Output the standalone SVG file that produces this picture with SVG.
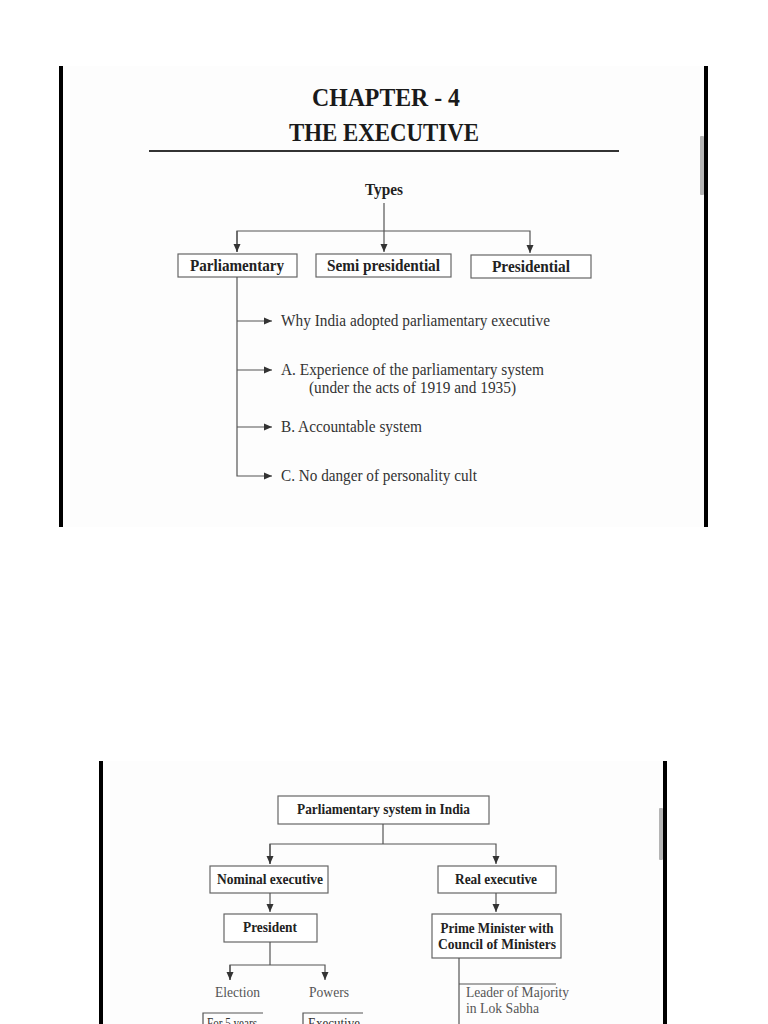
<svg xmlns="http://www.w3.org/2000/svg" width="768" height="1024" viewBox="0 0 768 1024">
<defs>
<marker id="ah" markerWidth="9" markerHeight="9" refX="8" refY="4.5" orient="auto" markerUnits="userSpaceOnUse">
<path d="M0,1 L8,4.5 L0,8 Z" fill="#333"/>
</marker>
<style>
.bar{fill:#000}
.thumb{fill:#b5b5b5}
.ln{stroke:#555;stroke-width:1.2;fill:none}
.box{fill:#fff;stroke:#666;stroke-width:1.2}
.title{font-family:"Liberation Serif",serif;font-weight:bold;fill:#1a1a1a;text-anchor:middle}
.b{font-family:"Liberation Serif",serif;font-weight:bold;fill:#222;text-anchor:middle}
.r{font-family:"Liberation Serif",serif;fill:#333}
.g{font-family:"Liberation Serif",serif;fill:#555}
</style>
</defs>
<rect width="768" height="1024" fill="#fff"/>

<!-- top panel -->
<g id="panel1">
<rect x="62" y="66" width="643" height="461" fill="#fdfdfd"/>
<rect class="bar" x="59" y="66" width="4" height="461"/>
<rect class="bar" x="704" y="66" width="4" height="461"/>
<rect class="thumb" x="700" y="136" width="4" height="59" rx="1"/>
</g>

<g id="header">
<text class="title" x="386" y="106" font-size="26" textLength="148" lengthAdjust="spacingAndGlyphs">CHAPTER - 4</text>
<text class="title" x="384" y="141" font-size="26" textLength="190" lengthAdjust="spacingAndGlyphs">THE EXECUTIVE</text>
<line x1="149" y1="151" x2="619" y2="151" stroke="#333" stroke-width="2"/>
</g>

<g id="types"><text class="b" x="384" y="195" font-size="16" textLength="38" lengthAdjust="spacingAndGlyphs">Types</text></g>
<g id="parliamentary"><rect class="box" x="178" y="254" width="119" height="23"/><text class="b" x="237" y="271" font-size="16" textLength="94" lengthAdjust="spacingAndGlyphs">Parliamentary</text></g>
<g id="semi"><rect class="box" x="316" y="254" width="135" height="23"/><text class="b" x="383.5" y="271" font-size="16" textLength="113" lengthAdjust="spacingAndGlyphs">Semi presidential</text></g>
<g id="presidential"><rect class="box" x="471" y="255" width="120" height="23"/><text class="b" x="531" y="272" font-size="16" textLength="78" lengthAdjust="spacingAndGlyphs">Presidential</text></g>

<g id="why"><text class="r" x="281" y="326" font-size="16.5" textLength="269" lengthAdjust="spacingAndGlyphs">Why India adopted parliamentary executive</text></g>
<g id="a"><text class="r" x="281" y="375" font-size="16.5" textLength="263" lengthAdjust="spacingAndGlyphs">A. Experience of the parliamentary system</text><text class="r" x="309" y="393" font-size="16.5" textLength="207" lengthAdjust="spacingAndGlyphs">(under the acts of 1919 and 1935)</text></g>
<g id="b"><text class="r" x="281" y="432" font-size="16.5" textLength="141" lengthAdjust="spacingAndGlyphs">B. Accountable system</text></g>
<g id="c"><text class="r" x="281" y="481" font-size="16.5" textLength="196" lengthAdjust="spacingAndGlyphs">C. No danger of personality cult</text></g>

<g id="connectors1">
<line class="ln" x1="384" y1="203" x2="384" y2="252" marker-end="url(#ah)"/>
<polyline class="ln" points="237,252 237,231 530,231 530,253" marker-end="url(#ah)"/>
<line class="ln" x1="237" y1="231" x2="237" y2="252" marker-end="url(#ah)"/>
<polyline class="ln" points="237,277 237,476 272,476" marker-end="url(#ah)"/>
<line class="ln" x1="237" y1="321" x2="272" y2="321" marker-end="url(#ah)"/>
<line class="ln" x1="237" y1="370" x2="272" y2="370" marker-end="url(#ah)"/>
<line class="ln" x1="237" y1="427" x2="272" y2="427" marker-end="url(#ah)"/>
</g>

<!-- bottom panel -->
<g id="panel2">
<rect x="102" y="761" width="562" height="263" fill="#fdfdfd"/>
<rect class="bar" x="99" y="761" width="4" height="263"/>
<rect class="bar" x="663" y="761" width="4" height="263"/>
<rect class="thumb" x="659" y="808" width="4" height="52" rx="1" fill="#d0d0d0"/>
</g>

<g id="psi"><rect class="box" x="278" y="796" width="211" height="28"/><text class="b" x="383.5" y="814" font-size="14" textLength="173" lengthAdjust="spacingAndGlyphs">Parliamentary system in India</text></g>
<g id="nominal"><rect class="box" x="210" y="866" width="118" height="27"/><text class="b" x="270" y="884" font-size="14" textLength="106" lengthAdjust="spacingAndGlyphs">Nominal executive</text></g>
<g id="real"><rect class="box" x="438" y="866" width="118" height="27"/><text class="b" x="496" y="884" font-size="14" textLength="82" lengthAdjust="spacingAndGlyphs">Real executive</text></g>
<g id="president"><rect class="box" x="224" y="914" width="93" height="28"/><text class="b" x="270" y="932" font-size="14" textLength="54" lengthAdjust="spacingAndGlyphs">President</text></g>
<g id="pm"><rect class="box" x="432" y="914" width="129" height="44"/><text class="b" x="497" y="933" font-size="14" textLength="113" lengthAdjust="spacingAndGlyphs">Prime Minister with</text><text class="b" x="497" y="949" font-size="14" textLength="118" lengthAdjust="spacingAndGlyphs">Council of Ministers</text></g>
<g id="election"><text class="g" x="215" y="997" font-size="14" textLength="45" lengthAdjust="spacingAndGlyphs">Election</text></g>
<g id="powers"><text class="g" x="309" y="997" font-size="14" textLength="40" lengthAdjust="spacingAndGlyphs">Powers</text></g>
<g id="leader"><text class="g" x="466" y="997" font-size="14" textLength="103" lengthAdjust="spacingAndGlyphs">Leader of Majority</text><text class="g" x="466" y="1013" font-size="14" textLength="73" lengthAdjust="spacingAndGlyphs">in Lok Sabha</text></g>
<g id="for5"><polyline class="ln" points="203,1024 203,1013 263,1013" stroke="#888"/><text class="r" x="207" y="1028" font-size="14" textLength="50" lengthAdjust="spacingAndGlyphs">For 5 years</text></g>
<g id="exec"><polyline class="ln" points="303,1024 303,1013 363,1013" stroke="#888"/><text class="r" x="308" y="1028" font-size="14" textLength="52" lengthAdjust="spacingAndGlyphs">Executive</text></g>

<g id="connectors2">
<polyline class="ln" points="383,824 383,844"/>
<polyline class="ln" points="270,864 270,844 496,844 496,864" marker-end="url(#ah)"/>
<line class="ln" x1="270" y1="844" x2="270" y2="864" marker-end="url(#ah)"/>
<line class="ln" x1="270" y1="893" x2="270" y2="912" marker-end="url(#ah)"/>
<line class="ln" x1="496" y1="893" x2="496" y2="912" marker-end="url(#ah)"/>
<polyline class="ln" points="270,942 270,965"/>
<polyline class="ln" points="230,980 230,965 325,965 325,980" marker-end="url(#ah)"/>
<line class="ln" x1="230" y1="965" x2="230" y2="980" marker-end="url(#ah)"/>
<line class="ln" x1="459" y1="958" x2="459" y2="1024"/>
<line class="ln" x1="459" y1="984" x2="556" y2="984"/>
</g>
</svg>
